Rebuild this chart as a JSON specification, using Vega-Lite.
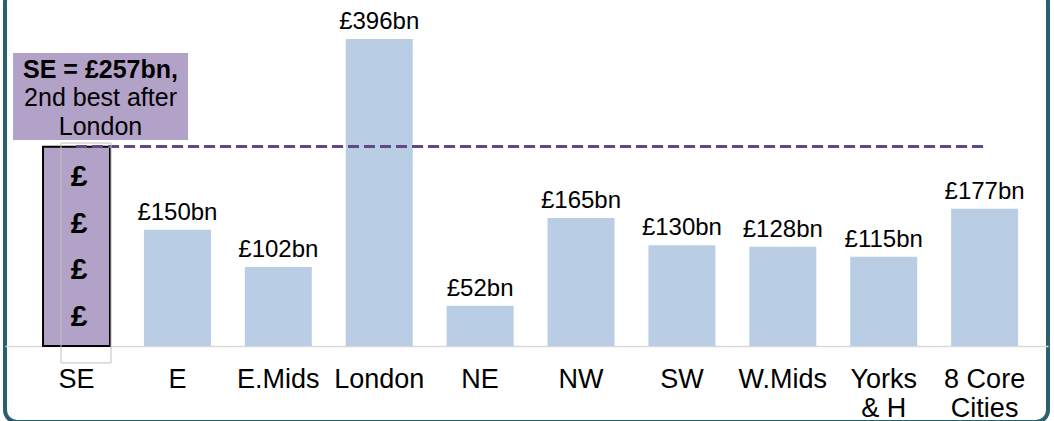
{
  "$schema": "https://vega.github.io/schema/vega-lite/v6.json",
  "width": 1043,
  "height": 432,
  "autosize": {"type": "none"},
  "padding": {"left": 5, "right": 6, "top": -10, "bottom": -1},
  "background": "white",
  "config": {
    "font": "Liberation Sans",
    "view": {"stroke": "#28606f", "strokeWidth": 4, "cornerRadius": 12}
  },
  "data": {
    "values": [
      {"region": "SE", "value": 257, "label": "£257bn"},
      {"region": "E", "value": 150, "label": "£150bn"},
      {"region": "E.Mids", "value": 102, "label": "£102bn"},
      {"region": "London", "value": 396, "label": "£396bn"},
      {"region": "NE", "value": 52, "label": "£52bn"},
      {"region": "NW", "value": 165, "label": "£165bn"},
      {"region": "SW", "value": 130, "label": "£130bn"},
      {"region": "W.Mids", "value": 128, "label": "£128bn"},
      {"region": "Yorks & H", "value": 115, "label": "£115bn"},
      {"region": "8 Core Cities", "value": 177, "label": "£177bn"}
    ]
  },
  "encoding": {
    "x": {
      "field": "region",
      "type": "nominal",
      "sort": null,
      "scale": {"paddingInner": 0.336, "paddingOuter": 0.3365, "align": 0.56},
      "axis": {
        "title": null,
        "orient": "bottom",
        "offset": -76,
        "domain": true,
        "domainColor": "#d9d9d9",
        "domainWidth": 1.5,
        "ticks": false,
        "labelAngle": 0,
        "labelFontSize": 27,
        "labelColor": "black",
        "labelPadding": 20,
        "labelLineHeight": 29,
        "labelExpr": "datum.value == 'Yorks & H' ? ['Yorks', '& H'] : datum.value == '8 Core Cities' ? ['8 Core', 'Cities'] : datum.label"
      }
    }
  },
  "layer": [
    {
      "mark": {"type": "bar", "width": 175, "xOffset": 24, "color": "#b3a2c7"},
      "transform": [{"filter": "datum.region === 'SE'"}],
      "encoding": {
        "y": {"datum": 377.9, "type": "quantitative", "scale": {"domain": [-98, 459.2], "nice": false, "zero": false}, "axis": null},
        "y2": {"datum": 265.7}
      }
    },
    {
      "mark": {"type": "text", "xOffset": 24, "fontSize": 25, "fontWeight": "bold", "color": "black", "baseline": "alphabetic", "align": "center", "text": "SE = £257bn,"},
      "transform": [{"filter": "datum.region === 'SE'"}],
      "encoding": {"y": {"datum": 345.7, "type": "quantitative"}}
    },
    {
      "mark": {"type": "text", "xOffset": 24, "fontSize": 25, "color": "black", "baseline": "alphabetic", "align": "center", "text": "2nd best after"},
      "transform": [{"filter": "datum.region === 'SE'"}],
      "encoding": {"y": {"datum": 309.0, "type": "quantitative"}}
    },
    {
      "mark": {"type": "text", "xOffset": 24, "fontSize": 25, "color": "black", "baseline": "alphabetic", "align": "center", "text": "London"},
      "transform": [{"filter": "datum.region === 'SE'"}],
      "encoding": {"y": {"datum": 272.2, "type": "quantitative"}}
    },
    {
      "mark": {"type": "bar"},
      "encoding": {
        "y": {"field": "value", "type": "quantitative"},
        "y2": {"datum": 0},
        "color": {"condition": {"test": "datum.region === 'SE'", "value": "#b3a2c7"}, "value": "#b9cde5"},
        "stroke": {"condition": {"test": "datum.region === 'SE'", "value": "black"}, "value": null},
        "strokeWidth": {"value": 2}
      }
    },
    {
      "mark": {"type": "rule", "color": "#5f4a86", "strokeWidth": 2.5, "strokeDash": [10, 6]},
      "encoding": {
        "x": {"datum": "SE"},
        "x2": {"datum": "8 Core Cities"},
        "y": {"datum": 257, "type": "quantitative"}
      }
    },
    {
      "mark": {"type": "bar", "width": 50, "xOffset": 9.5, "fillOpacity": 0, "stroke": "#c0c0c0", "strokeWidth": 1},
      "transform": [{"filter": "datum.region === 'SE'"}],
      "encoding": {
        "y": {"datum": 261.8, "type": "quantitative"},
        "y2": {"datum": -21.9}
      }
    },
    {
      "mark": {"type": "text", "xOffset": 2.5, "fontSize": 30, "fontWeight": "bold", "color": "black", "baseline": "middle", "align": "center", "lineHeight": 46.7, "text": ["£", "£", "£", "£"]},
      "transform": [{"filter": "datum.region === 'SE'"}],
      "encoding": {"y": {"datum": 218, "type": "quantitative"}}
    },
    {
      "mark": {"type": "text", "fontSize": 24, "color": "black", "baseline": "alphabetic", "align": "center", "dy": -10},
      "transform": [{"filter": "datum.region !== 'SE'"}],
      "encoding": {
        "y": {"field": "value", "type": "quantitative"},
        "text": {"field": "label"}
      }
    }
  ]
}
